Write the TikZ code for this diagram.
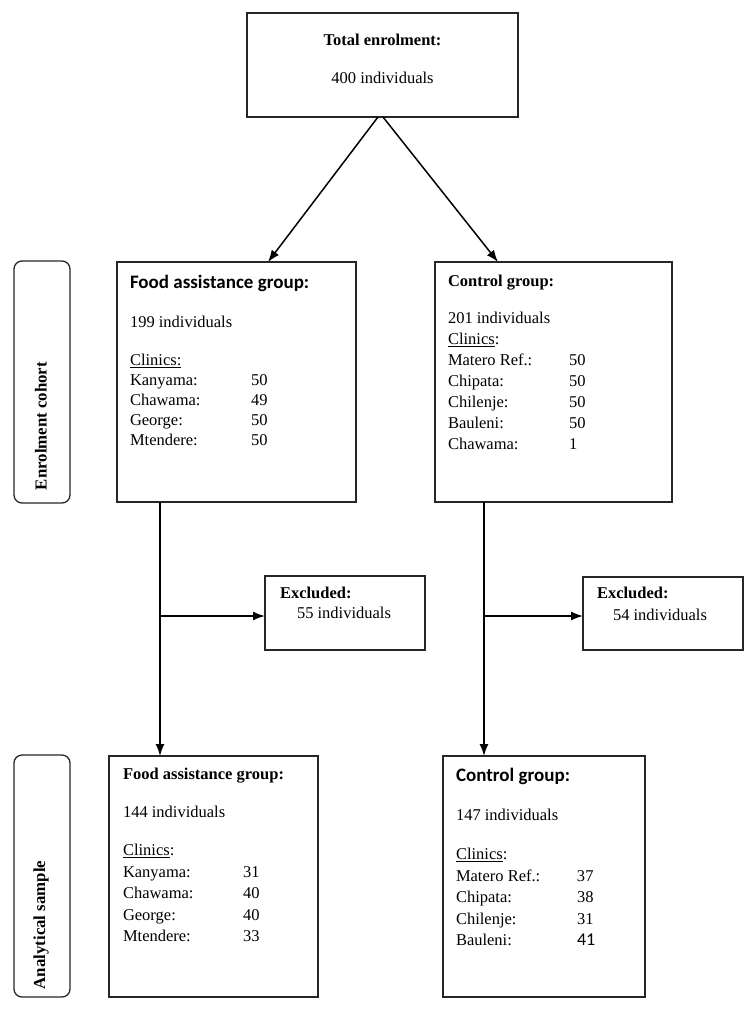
\documentclass[tikz,border=0pt]{standalone}
\usepackage{fontspec}
\setmainfont{Liberation Serif}
\newfontfamily\calibri{Carlito}
\usetikzlibrary{arrows.meta,positioning}
\tikzstyle{box}=[rectangle,draw=black!85,line width=1.3pt,inner sep=0pt,outer sep=0pt]
\tikzstyle{side}=[box,rounded corners=8pt]
\tikzstyle{txt}=[inner sep=0pt,outer sep=0pt,anchor=base west,font=\fontsize{16.5}{20}\selectfont]
\tikzstyle{sidetxt}=[inner sep=0pt,rotate=90,font=\fontsize{16.8}{20}\selectfont\bfseries]
\tikzstyle{flow}=[-{Latex[length=12pt,width=9pt]},line width=1.5pt]
\newcommand{\grouphead}[1]{{\calibri\fontsize{19}{20}\selectfont\bfseries #1}}

\begin{document}
\begin{tikzpicture}[x=1pt,y=-1pt]

\useasboundingbox (0,0) rectangle (751,1012);

\node (total) [box,minimum width=271pt,minimum height=104pt] at (382.5,65) {};
\node (totaltxt) [txt,anchor=base,font=\fontsize{16.5}{38}\selectfont] at ([yshift=-32.5pt]total.north)
  {\begin{tabular}[t]{@{}c@{}}\textbf{Total enrolment:}\\400 individuals\end{tabular}};

\node (cohort) [side,minimum width=56pt,minimum height=242pt] at (42,382) {};
\node (cohorttxt) [sidetxt] at (41,426) {Enrolment cohort};
\node (sample) [side,minimum width=56pt,minimum height=242pt] at (42,876) {};
\node (sampletxt) [sidetxt] at (41,925) {Analytical sample};

\node (foodA) [box,minimum width=239pt,minimum height=240pt] at (236.5,382) {};
\node (foodAtxt) [txt] at ([xshift=13pt,yshift=-26.5pt]foodA.north west)
  {\begin{tabular}[t]{@{}p{121pt}@{}l@{}}
  \multicolumn{2}{@{}l@{}}{\grouphead{Food assistance group:}}\\
  \\[-1pt]
  199 individuals & \\
  \\[-2pt]
  \underline{Clinics:} & \\
  Kanyama: & 50\\
  Chawama: & 49\\
  George: & 50\\
  Mtendere: & 50
  \end{tabular}};

\node (ctrlA) [box,minimum width=237pt,minimum height=240pt] at (553.5,382) {};
\node (ctrlAtxt) [txt,font=\fontsize{16.5}{21}\selectfont] at ([xshift=13pt,yshift=-24.5pt]ctrlA.north west)
  {\begin{tabular}[t]{@{}p{121pt}@{}l@{}}
  \multicolumn{2}{@{}l@{}}{\textbf{Control group:}}\\
  \\[-5pt]
  201 individuals & \\
  \underline{Clinics}: & \\
  Matero Ref.: & 50\\
  Chipata: & 50\\
  Chilenje: & 50\\
  Bauleni: & 50\\
  Chawama: & 1
  \end{tabular}};

\draw [flow] ([xshift=-4.5pt]total.south) -- ([xshift=31.5pt]foodA.north);
\draw [flow] ([xshift=0.5pt]total.south) -- ([xshift=-55.5pt]ctrlA.north);

\node (exclA) [box,minimum width=160pt,minimum height=74pt] at (345,613) {};
\node (exclAtxt) [txt] at ([xshift=15pt,yshift=-22.5pt]exclA.north west)
  {\begin{tabular}[t]{@{}l@{}}\textbf{Excluded:}\\\hspace{17pt}55 individuals\end{tabular}};
\node (exclB) [box,minimum width=160pt,minimum height=73pt] at (663,613.5) {};
\node (exclBtxt) [txt,font=\fontsize{16.5}{22}\selectfont] at ([xshift=14pt,yshift=-21.5pt]exclB.north west)
  {\begin{tabular}[t]{@{}l@{}}\textbf{Excluded:}\\\hspace{16pt}54 individuals\end{tabular}};

\node (foodB) [box,minimum width=209pt,minimum height=241pt] at (213.5,876.5) {};
\node (foodBtxt) [txt,font=\fontsize{16.5}{21.5}\selectfont] at ([xshift=14pt,yshift=-23.5pt]foodB.north west)
  {\begin{tabular}[t]{@{}p{120pt}@{}l@{}}
  \multicolumn{2}{@{}l@{}}{\textbf{Food assistance group:}}\\
  \\[-5pt]
  144 individuals & \\
  \\[-5pt]
  \underline{Clinics}: & \\
  Kanyama: & 31\\
  Chawama: & 40\\
  George: & 40\\
  Mtendere: & 33
  \end{tabular}};

\node (ctrlB) [box,minimum width=202pt,minimum height=241pt] at (544,876.5) {};
\node (ctrlBtxt) [txt,font=\fontsize{16.5}{21.5}\selectfont] at ([xshift=13pt,yshift=-25.5pt]ctrlB.north west)
  {\begin{tabular}[t]{@{}p{121pt}@{}l@{}}
  \multicolumn{2}{@{}l@{}}{\grouphead{Control group:}}\\
  \\[-4pt]
  147 individuals & \\
  \\[-4pt]
  \underline{Clinics}: & \\
  Matero Ref.: & 37\\
  Chipata: & 38\\
  Chilenje: & 31\\
  Bauleni: & {\calibri\fontsize{18}{20}\selectfont 41}
  \end{tabular}};

\coordinate (splitL) at (160,616);
\coordinate (splitR) at (484,616);

\draw [flow] (foodA.south -| splitL) -- (foodB.north -| splitL);
\draw [flow] (splitL) -- (splitL -| exclA.west);
\draw [flow] (ctrlA.south -| splitR) -- (ctrlB.north -| splitR);
\draw [flow] (splitR) -- (splitR -| exclB.west);

\end{tikzpicture}
\end{document}
